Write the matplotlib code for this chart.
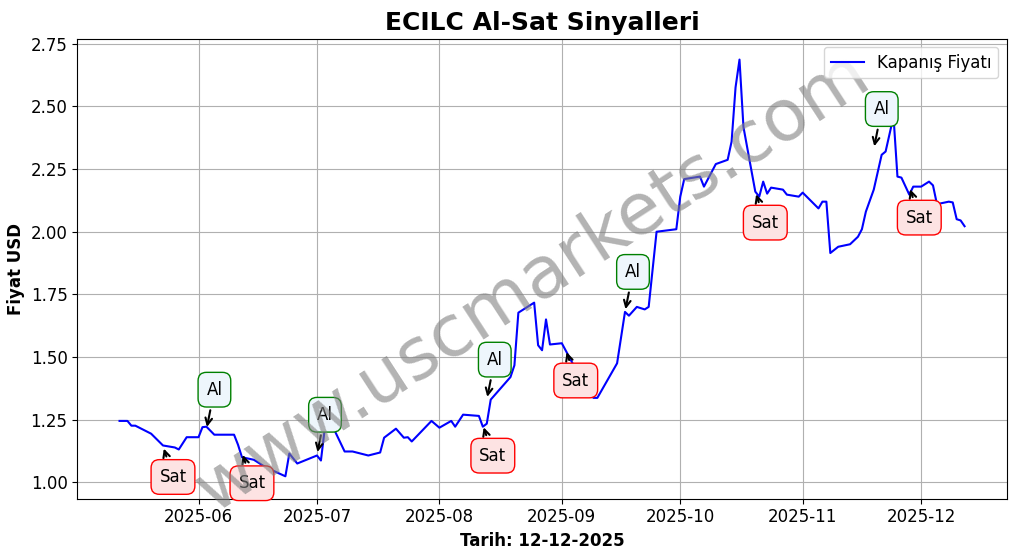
import matplotlib
matplotlib.use("Agg")
import matplotlib.pyplot as plt
import matplotlib.dates as mdates
import pandas as pd

dates = ["2025-05-12", "2025-05-14", "2025-05-15", "2025-05-16", "2025-05-20", "2025-05-23", "2025-05-26",
         "2025-05-27", "2025-05-29", "2025-06-01", "2025-06-02", "2025-06-03", "2025-06-05", "2025-06-10",
         "2025-06-11", "2025-06-12", "2025-06-15", "2025-06-18", "2025-06-23", "2025-06-24", "2025-06-26",
         "2025-07-01", "2025-07-02", "2025-07-03", "2025-07-05", "2025-07-08", "2025-07-10", "2025-07-14",
         "2025-07-17", "2025-07-18", "2025-07-21", "2025-07-23", "2025-07-24", "2025-07-25", "2025-07-30",
         "2025-08-01", "2025-08-04", "2025-08-05", "2025-08-07", "2025-08-11", "2025-08-12", "2025-08-13",
         "2025-08-14", "2025-08-19", "2025-08-20", "2025-08-21", "2025-08-25", "2025-08-26", "2025-08-27",
         "2025-08-28", "2025-08-29", "2025-09-01", "2025-09-04", "2025-09-09", "2025-09-10", "2025-09-15",
         "2025-09-17", "2025-09-18", "2025-09-20", "2025-09-22", "2025-09-23", "2025-09-25", "2025-09-30",
         "2025-10-01", "2025-10-02", "2025-10-06", "2025-10-07", "2025-10-10", "2025-10-13", "2025-10-14",
         "2025-10-15", "2025-10-16", "2025-10-17", "2025-10-20", "2025-10-21", "2025-10-22", "2025-10-23",
         "2025-10-24", "2025-10-27", "2025-10-28", "2025-10-31", "2025-11-01", "2025-11-05", "2025-11-06",
         "2025-11-07", "2025-11-08", "2025-11-10", "2025-11-13", "2025-11-15", "2025-11-16", "2025-11-17",
         "2025-11-19", "2025-11-21", "2025-11-22", "2025-11-24", "2025-11-25", "2025-11-26", "2025-11-28",
         "2025-11-29", "2025-12-01", "2025-12-03", "2025-12-04", "2025-12-05", "2025-12-08", "2025-12-09",
         "2025-12-10", "2025-12-11", "2025-12-12"]
prices = [1.245, 1.245, 1.226, 1.226, 1.194, 1.147, 1.139,
          1.131, 1.18, 1.18, 1.22, 1.222, 1.19, 1.19,
          1.15, 1.10, 1.09, 1.06, 1.024, 1.115, 1.075,
          1.107, 1.087, 1.218, 1.222, 1.123, 1.123, 1.107,
          1.119, 1.178, 1.214, 1.178, 1.18, 1.163, 1.245,
          1.218, 1.245, 1.222, 1.27, 1.265, 1.222, 1.234,
          1.33, 1.42, 1.467, 1.677, 1.717, 1.547, 1.527,
          1.65, 1.55, 1.555, 1.467, 1.337, 1.337, 1.475,
          1.68, 1.665, 1.70, 1.69, 1.70, 2.0, 2.01,
          2.14, 2.21, 2.22, 2.18, 2.27, 2.287, 2.36,
          2.576, 2.687, 2.418, 2.16, 2.14, 2.2, 2.152,
          2.176, 2.168, 2.148, 2.14, 2.156, 2.093, 2.12,
          2.12, 1.915, 1.94, 1.95, 1.98, 2.01, 2.08,
          2.168, 2.307, 2.32, 2.46, 2.22, 2.216, 2.148,
          2.18, 2.18, 2.2, 2.185, 2.11, 2.12, 2.117,
          2.05, 2.045, 2.022]

al_dates = ["2025-06-03", "2025-07-01", "2025-08-13", "2025-09-17", "2025-11-19"]
al_prices = [1.21, 1.11, 1.33, 1.68, 2.33]
sat_dates = ["2025-05-23", "2025-06-12", "2025-08-12", "2025-09-02", "2025-10-20", "2025-11-28"]
sat_prices = [1.145, 1.12, 1.23, 1.53, 2.16, 2.18]

x = pd.to_datetime(dates)
fig, ax = plt.subplots(figsize=(10.17, 5.54), dpi=100)
ax.plot(x, prices, color="blue", lw=1.5, label="Kapanış Fiyatı")

for d, p in zip(al_dates, al_prices):
    ax.annotate("Al", xy=(pd.Timestamp(d), p), xytext=(8, 40), textcoords="offset pixels",
                fontsize=12, ha="center", va="center",
                bbox=dict(boxstyle="round,pad=0.5", fc="#eef6fc", ec="green"),
                arrowprops=dict(arrowstyle="->", color="black", lw=1.5))
for d, p in zip(sat_dates, sat_prices):
    ax.annotate("Sat", xy=(pd.Timestamp(d), p), xytext=(10, -31), textcoords="offset pixels",
                fontsize=12, ha="center", va="center",
                bbox=dict(boxstyle="round,pad=0.5", fc="#fde3e3", ec="red"),
                arrowprops=dict(arrowstyle="->", color="black", lw=1.5))

ax.text(0.49, 0.47, "www.uscmarkets.com", transform=ax.transAxes, fontsize=52, color="gray",
        alpha=0.6, rotation=33, ha="center", va="center")

ax.set_title("ECILC Al-Sat Sinyalleri", fontsize=18, fontweight="bold")
ax.set_xlabel("Tarih: 12-12-2025", fontsize=12, fontweight="bold")
ax.set_ylabel("Fiyat USD", fontsize=12, fontweight="bold")
ax.xaxis.set_major_locator(mdates.MonthLocator())
ax.xaxis.set_major_formatter(mdates.DateFormatter("%Y-%m"))
ax.set_ylim(0.935, 2.77)
ax.tick_params(labelsize=12)
ax.grid(True, color="#b0b0b0")
ax.legend(loc="upper right", fontsize=12)
fig.subplots_adjust(left=0.076, right=0.99, top=0.93, bottom=0.1)
fig.savefig("out.png", dpi=100)
